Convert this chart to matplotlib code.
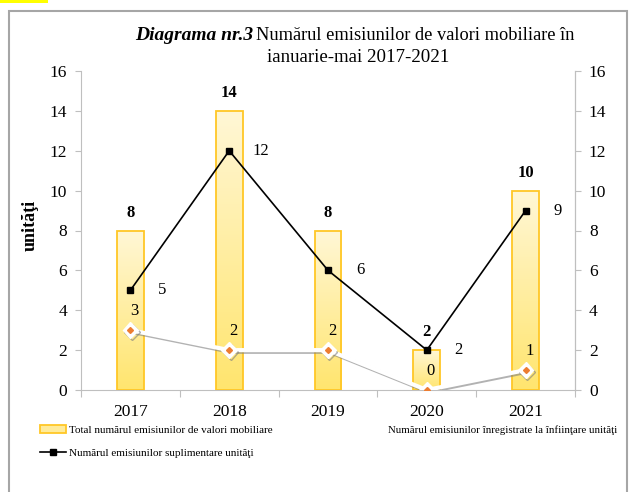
import numpy as np
import matplotlib
matplotlib.use("Agg")
import matplotlib.pyplot as plt
import matplotlib.patheffects as pe
from matplotlib.colors import LinearSegmentedColormap
from matplotlib.patches import Rectangle
from matplotlib.lines import Line2D

# data
years = ["2017", "2018", "2019", "2020", "2021"]
total = [8, 14, 8, 2, 10]
suplimentare = [5, 12, 6, 2, 9]
infiintare = [3, 2, 2, 0, 1]

plt.rcParams["font.family"] = ["Liberation Serif", "DejaVu Serif"]

W, H = 635, 492
fig = plt.figure(figsize=(6.35, 4.92), dpi=100)

def fx(px):
    return px / W

def fy(py):
    return 1 - py / H

# yellow marker and grey frame around the chart
fig.patches.append(Rectangle((0, fy(3)), fx(48), 3 / H, transform=fig.transFigure,
                             facecolor="#FFFF00", edgecolor="none"))
fig.patches.append(Rectangle((fx(9), fy(560)), fx(618), 549 / H, transform=fig.transFigure,
                             facecolor="none", edgecolor="#A6A6A6", linewidth=1.5))

ax = fig.add_axes([fx(81), fy(390), fx(575) - fx(81), fy(71) - fy(390)])
x = np.arange(len(years))

# bars with a vertical gradient
bars = ax.bar(x, total, width=0.27, color="none", edgecolor="#FFC726", linewidth=1.3, zorder=3)
cmap = LinearSegmentedColormap.from_list("yel", ["#FFE56E", "#FFF7D6"])
grad = np.linspace(0, 1, 256).reshape(-1, 1)
for b in bars:
    x0, w, h = b.get_x(), b.get_width(), b.get_height()
    im = ax.imshow(grad, cmap=cmap, aspect="auto", origin="lower",
                   extent=[x0, x0 + w, 0, h], zorder=2)
    im.set_clip_path(b)

# black line (suplimentare)
ax.plot(x, suplimentare, color="black", linewidth=1.2, marker="s", markersize=5,
        zorder=5)

# white line with shadow (infiintare)
shadow = [pe.SimpleLineShadow(offset=(1, -1.2), shadow_color="#7F7F7F", alpha=0.6),
          pe.Normal()]
ax.plot(x, infiintare, color="white", linewidth=3, marker="D", markersize=8,
        markerfacecolor="white", markeredgecolor="white", zorder=6,
        path_effects=shadow)
ax.plot(x, infiintare, linestyle="none", marker="D", markersize=3,
        color="#ED7D31", zorder=7)

ax.set_xlim(-0.5, len(years) - 0.5)
ax.set_ylim(0, 16)
ax.set_yticks(range(0, 17, 2))

# category labels at centres, tick marks at boundaries
ax.set_xticks(np.arange(-0.5, len(years), 1))
ax.set_xticklabels([])
ax.set_xticks(x, minor=True)
ax.set_xticklabels(years, minor=True, fontsize=12.5)
ax.tick_params(axis="x", which="minor", length=0, pad=10)
ax.tick_params(axis="x", which="major", length=5, color="#BFBFBF")
ax.tick_params(axis="y", length=4, color="#BFBFBF", labelsize=12.5, pad=6)

ax.spines["top"].set_visible(False)
for s in ["left", "right", "bottom"]:
    ax.spines[s].set_color("#BFBFBF")

ax2 = ax.twinx()
ax2.set_ylim(0, 16)
ax2.set_yticks(range(0, 17, 2))
ax2.tick_params(axis="y", length=4, color="#BFBFBF", labelsize=12.5, pad=6)
for s in ["top", "left", "bottom"]:
    ax2.spines[s].set_visible(False)
ax2.spines["right"].set_color("#BFBFBF")

fig.text(fx(30), fy(225), "unităţi", rotation=90, ha="center", va="center",
         fontsize=13, fontweight="bold")

# data labels
for i, v in enumerate(total):
    ax.annotate(str(v), (i, v), xytext=(0, 7), textcoords="offset points",
                ha="center", va="bottom", fontsize=12, fontweight="bold", zorder=8)
for i, v in enumerate(suplimentare):
    ax.annotate(str(v), (i, v), xytext=(23, 0), textcoords="offset points",
                ha="center", va="center", fontsize=12, zorder=8)
for i, v in enumerate(infiintare):
    ax.annotate(str(v), (i, v), xytext=(3, 8), textcoords="offset points",
                ha="center", va="bottom", fontsize=12, zorder=8)

# title
fig.text(fx(253), fy(35), "Diagrama nr.3", ha="right", va="center", fontsize=14,
         fontweight="bold", fontstyle="italic")
fig.text(fx(256), fy(35), "Numărul emisiunilor de valori mobiliare în", ha="left",
         va="center", fontsize=13.2)
fig.text(fx(358), fy(57), "ianuarie-mai 2017-2021", ha="center", va="center", fontsize=13.6)

# legends
h_bar = Rectangle((0, 0), 1, 1, facecolor="#FFEB99", edgecolor="#FFC726", linewidth=1.3)
h_black = Line2D([], [], color="black", linewidth=1.2, marker="s", markersize=4)
h_white = Line2D([], [], color="white", linewidth=2, marker="D", markersize=5,
                 markerfacecolor="white", markeredgecolor="white")
fig.legend([h_bar, h_black],
           ["Total numărul emisiunilor de valori mobiliare",
            "Numărul emisiunilor suplimentare unităţi"],
           loc="upper left", bbox_to_anchor=(fx(40), fy(425)), frameon=False,
           fontsize=8, handlelength=2.3, handletextpad=0.3, labelspacing=1.2,
           borderaxespad=0, borderpad=0)
fig.legend([h_white], ["Numărul emisiunilor înregistrate la înfiinţare unităţi"],
           loc="upper left", bbox_to_anchor=(fx(360), fy(425)), frameon=False,
           fontsize=7.8, handlelength=2.3, handletextpad=0.3,
           borderaxespad=0, borderpad=0)

fig.savefig("out.png", dpi=100)
